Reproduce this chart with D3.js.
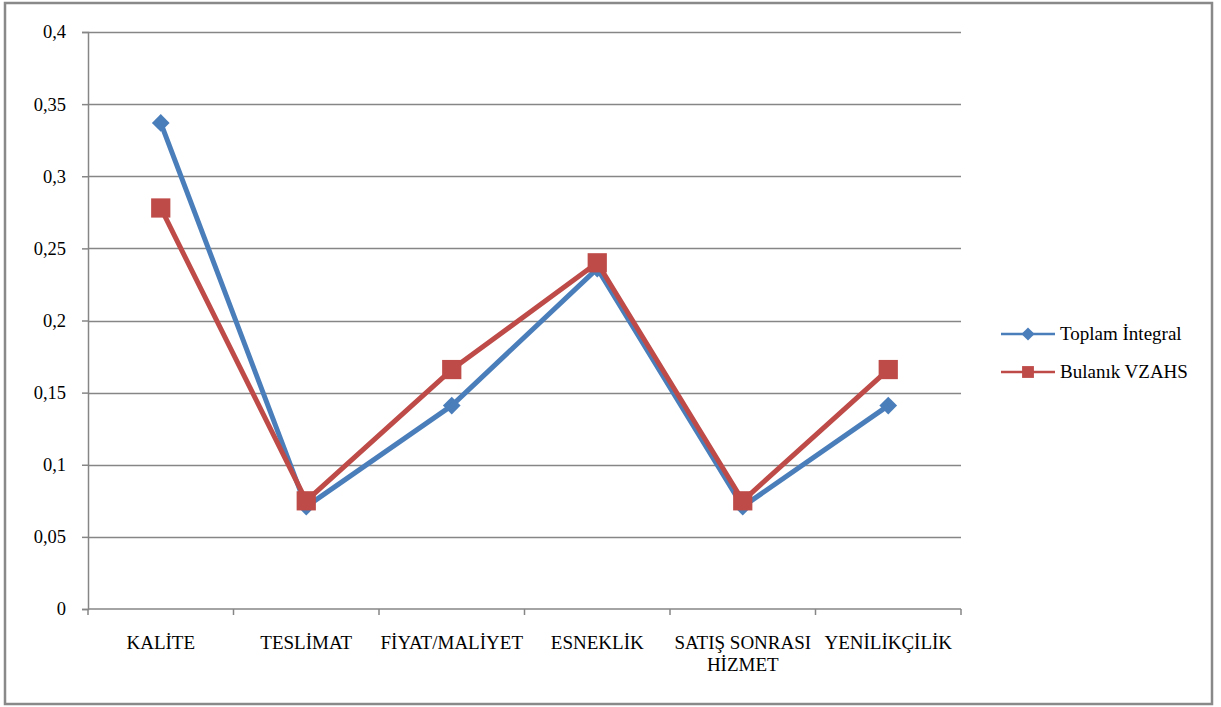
<!DOCTYPE html>
<html>
<head>
<meta charset="utf-8">
<script src="https://cdn.jsdelivr.net/npm/d3@7"></script>
<style>
  html, body { margin: 0; padding: 0; background: #fff; }
  svg { display: block; }
  svg text { font-family: "Liberation Serif", "Times New Roman", serif !important; fill: #000; }
</style>
</head>
<body>
<svg id="chart" width="1221" height="707"></svg>
<script>
// Criteria weights from the two methods
const categories = ["KALİTE", "TESLİMAT", "FİYAT/MALİYET", "ESNEKLİK", "SATIŞ SONRASI\nHİZMET", "YENİLİKÇİLİK"];
const toplamIntegral = [0.337, 0.071, 0.141, 0.236, 0.071, 0.141];
const bulanikVZAHS = [0.278, 0.075, 0.166, 0.240, 0.075, 0.166];
const yTicks = [0, 0.05, 0.1, 0.15, 0.2, 0.25, 0.3, 0.35, 0.4];
const seriesNames = ["Toplam İntegral", "Bulanık VZAHS"];

const svg = d3.select("#chart");
const W = 1221, H = 707;
const margin = { left: 88, right: 260, top: 32, bottom: 98 };
const gridColor = "#868686";
const blue = "#4a7ebb", red = "#be4b48";
const serif = "Liberation Serif";

// outer frame
svg.append("rect")
  .attr("x", 5).attr("y", 3).attr("width", 1207).attr("height", 701)
  .attr("fill", "#fff").attr("stroke", "#898989").attr("stroke-width", 2.5);

const x = d3.scaleBand().domain(d3.range(categories.length))
  .range([margin.left, W - margin.right]).paddingInner(0).paddingOuter(0);
const y = d3.scaleLinear().domain([0, 0.4]).range([H - margin.bottom, margin.top]);

const fmt = v => String(+v.toFixed(2)).replace(".", ",");

// horizontal gridlines
svg.append("g").selectAll("line").data(yTicks.filter(d => d > 0)).join("line")
  .attr("x1", margin.left).attr("x2", W - margin.right)
  .attr("y1", d => Math.round(y(d)) + 0.5).attr("y2", d => Math.round(y(d)) + 0.5)
  .attr("stroke", gridColor).attr("stroke-width", 1.5);

// y axis
const yAxis = svg.append("g")
  .attr("transform", `translate(${margin.left},0)`)
  .call(d3.axisLeft(y).tickValues(yTicks).tickFormat(fmt).tickSize(6).tickPadding(16));
yAxis.attr("font-family", serif).attr("font-size", 18.5);
yAxis.select(".domain").attr("stroke", gridColor).attr("stroke-width", 1.5);
yAxis.selectAll(".tick line").attr("stroke", gridColor).attr("stroke-width", 1.5);
yAxis.selectAll(".tick text").attr("fill", "#000");

// x axis with ticks on category boundaries
const xAxisG = svg.append("g").attr("transform", `translate(0,${y(0)})`)
  .attr("font-family", serif).attr("font-size", 19);
xAxisG.append("line")
  .attr("x1", margin.left).attr("x2", W - margin.right)
  .attr("stroke", gridColor).attr("stroke-width", 1.5);
const bounds = d3.range(categories.length + 1).map(i => margin.left + i * x.bandwidth());
xAxisG.selectAll("line.tk").data(bounds).join("line").attr("class", "tk")
  .attr("x1", d => d).attr("x2", d => d).attr("y1", 0).attr("y2", 6)
  .attr("stroke", gridColor).attr("stroke-width", 1.5);
const labels = xAxisG.selectAll("text.cat").data(categories).join("text").attr("class", "cat")
  .attr("text-anchor", "middle")
  .attr("transform", (d, i) => `translate(${x(i) + x.bandwidth() / 2},40)`);
labels.each(function(d) {
  const t = d3.select(this);
  d.split("\n").forEach((line, k) => {
    t.append("tspan").attr("x", 0).attr("dy", k === 0 ? 0 : 22).text(line);
  });
});

const cx = i => x(i) + x.bandwidth() / 2;
const line = d3.line().x((d, i) => cx(i)).y(d => y(d));

const diamond = d3.symbol().type(d3.symbolDiamond2).size(200);
const square = d3.symbol().type(d3.symbolSquare).size(370);

function drawSeries(values, color, sym) {
  svg.append("path").datum(values)
    .attr("d", line).attr("fill", "none")
    .attr("stroke", color).attr("stroke-width", 5).attr("stroke-linejoin", "round");
  svg.append("g").selectAll("path").data(values).join("path")
    .attr("d", sym)
    .attr("transform", (d, i) => `translate(${cx(i)},${y(d)})`)
    .attr("fill", color);
}
drawSeries(toplamIntegral, blue, diamond);
drawSeries(bulanikVZAHS, red, square);

// legend
const legend = svg.append("g").attr("font-family", serif).attr("font-size", 19);
const legendItems = [
  { name: seriesNames[0], color: blue, sym: d3.symbol().type(d3.symbolDiamond2).size(110) },
  { name: seriesNames[1], color: red, sym: d3.symbol().type(d3.symbolSquare).size(140) }
];
legendItems.forEach((it, k) => {
  const ly = 334 + k * 38;
  legend.append("line").attr("x1", 1001).attr("x2", 1055).attr("y1", ly).attr("y2", ly)
    .attr("stroke", it.color).attr("stroke-width", 2.5);
  legend.append("path").attr("d", it.sym).attr("transform", `translate(1028,${ly})`).attr("fill", it.color);
  legend.append("text").attr("x", 1060).attr("y", ly + 6).text(it.name);
});
</script>
</body>
</html>
